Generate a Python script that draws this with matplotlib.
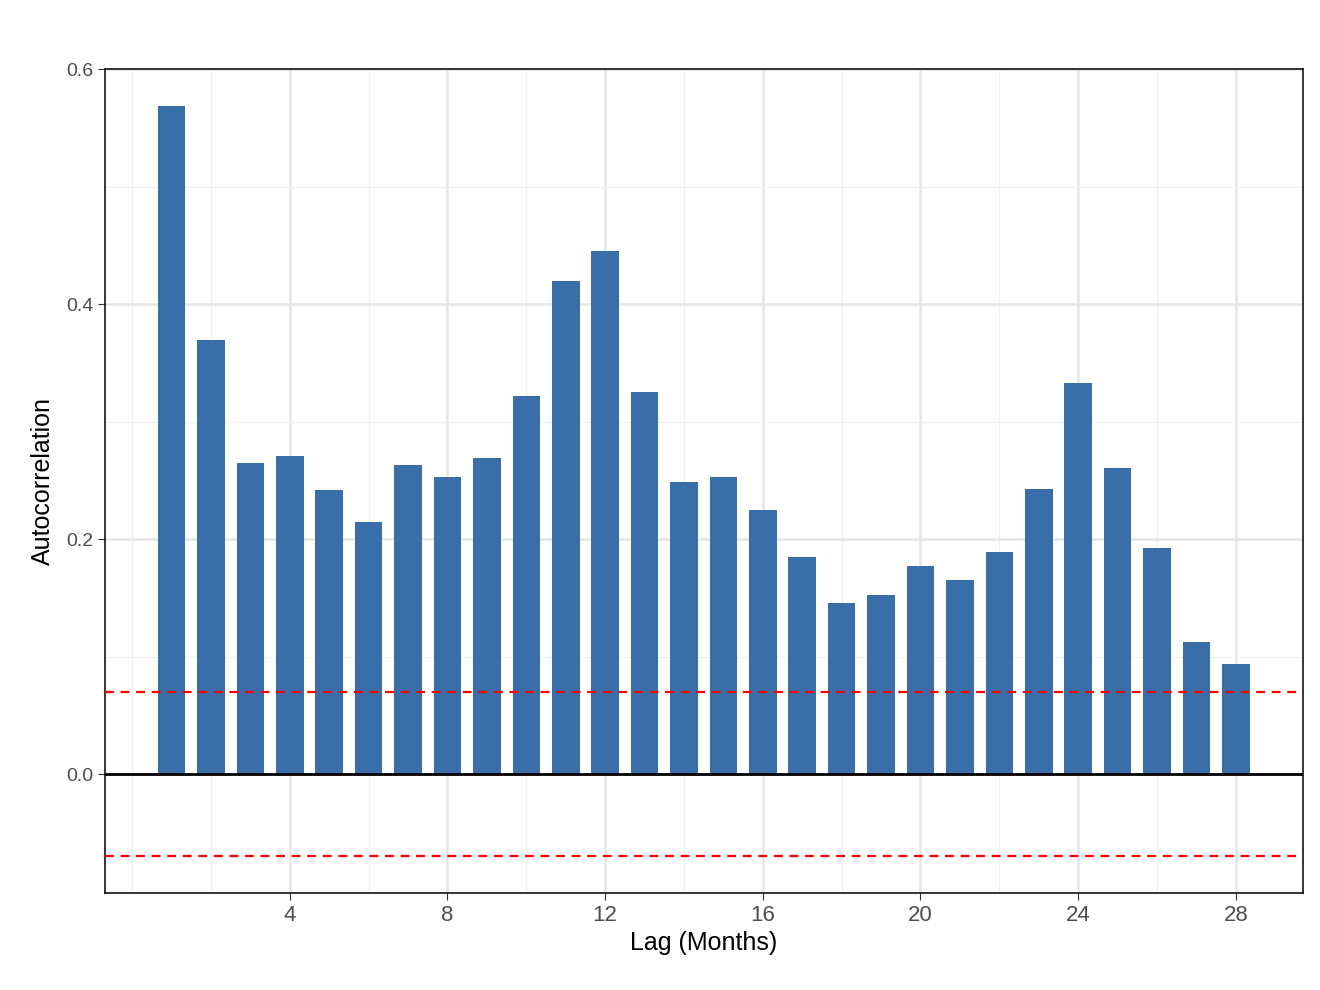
import numpy as np
import matplotlib
matplotlib.use('Agg')
import matplotlib.pyplot as plt
from matplotlib.ticker import MultipleLocator

lags = np.arange(1, 29)
acf = [0.569, 0.370, 0.265, 0.271, 0.242, 0.215, 0.263, 0.253, 0.269, 0.322,
       0.420, 0.445, 0.325, 0.249, 0.253, 0.225, 0.185, 0.146, 0.153, 0.177,
       0.165, 0.189, 0.243, 0.333, 0.261, 0.193, 0.113, 0.094]
conf = 0.0698

plt.rcParams['font.family'] = ['Liberation Sans', 'DejaVu Sans']
fig = plt.figure(figsize=(13.2, 9.9), dpi=100)
ax = fig.add_axes([0.0795, 0.098, 0.9075, 0.832])

ax.set_xlim(-0.69, 29.7)
ax.set_ylim(-0.101, 0.6)
ax.set_xticks([4, 8, 12, 16, 20, 24, 28])
ax.xaxis.set_minor_locator(MultipleLocator(2))
ax.set_yticks([0.0, 0.2, 0.4, 0.6])
ax.set_yticklabels(['0.0', '0.2', '0.4', '0.6'])
ax.yaxis.set_minor_locator(MultipleLocator(0.1))
ax.grid(which='major', color='#E5E5E5', linewidth=1.8)
ax.grid(which='minor', color='#F0F0F0', linewidth=1.0)
ax.set_axisbelow(True)

ax.bar(lags, acf, width=0.7, color='#3A6EA8', zorder=2)
ax.axhline(0, color='black', linewidth=2, zorder=3)
ax.axhline(conf, color='red', linestyle=(0, (4, 3)), linewidth=1.6, zorder=3)
ax.axhline(-conf, color='red', linestyle=(0, (4, 3)), linewidth=1.6, zorder=3)

ax.tick_params(axis='x', which='major', labelsize=16, length=5, color='#333333', labelcolor='#4D4D4D')
ax.tick_params(axis='y', which='major', labelsize=14, length=5, color='#333333', labelcolor='#4D4D4D')
ax.tick_params(which='minor', length=0)
for s in ax.spines.values():
    s.set_linewidth(1.1)

ax.set_xlabel('Lag (Months)', fontsize=18, labelpad=4)
ax.set_ylabel('Autocorrelation', fontsize=18, labelpad=8)

fig.savefig('out.png', dpi=100)
